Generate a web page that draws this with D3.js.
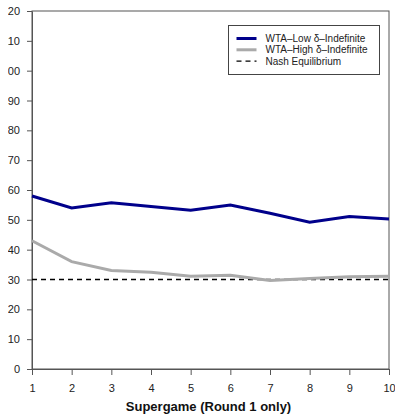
<!DOCTYPE html>
<html>
<head>
<meta charset="utf-8">
<script src="https://cdn.jsdelivr.net/npm/d3@7"></script>
<style>
  body { margin: 0; background: #fff; }
  svg { display: block; font-family: "Liberation Sans", Arial, sans-serif; }
  .axis text { fill: #222; font-size: 11px; }
  .axis path, .axis line { stroke: #555; }
</style>
</head>
<body>
<svg id="chart" width="395" height="414"></svg>
<script>
const supergames = [1, 2, 3, 4, 5, 6, 7, 8, 9, 10];
const lowDelta = [58.0, 54.0, 55.7, 54.5, 53.2, 55.0, 52.2, 49.2, 51.1, 50.3];
const highDelta = [43.0, 36.0, 33.0, 32.4, 31.1, 31.4, 29.7, 30.3, 30.9, 31.1];
const nashValue = 30;
const yTicks = [0, 10, 20, 30, 40, 50, 60, 70, 80, 90, 100, 110, 120];
const legendLabels = ["WTA\u2013Low \u03b4\u2013Indefinite", "WTA\u2013High \u03b4\u2013Indefinite", "Nash Equilibrium"];

const margin = {top: 11, right: 6, bottom: 45, left: 32};
const width = 395 - margin.left - margin.right;
const height = 414 - margin.top - margin.bottom;

const svg = d3.select("#chart");

// the original figure is cropped on the left, cutting the first digit of 100-120
svg.append("clipPath").attr("id", "crop")
  .append("rect")
    .attr("x", 8 - margin.left).attr("y", -20)
    .attr("width", 400).attr("height", 450);

const chart = svg.append("g")
    .attr("transform", `translate(${margin.left},${margin.top})`);

const xScale = d3.scaleLinear().domain([1, 10]).range([0, width]);
const yScale = d3.scaleLinear().domain([0, 120]).range([height, 0]);

// box on top and right
chart.append("rect")
    .attr("width", width)
    .attr("height", height)
    .attr("fill", "none")
    .attr("stroke", "#555");

const xAxis = d3.axisBottom(xScale).tickValues(supergames).tickSize(6).tickPadding(9).tickSizeOuter(0);
const yAxis = d3.axisLeft(yScale).tickValues(yTicks).tickSize(5).tickPadding(7).tickSizeOuter(0);

chart.append("g").attr("class", "axis x-axis")
    .attr("transform", `translate(0,${height})`)
    .call(xAxis);
chart.append("g").attr("class", "axis y-axis")
    .attr("clip-path", "url(#crop)")
    .call(yAxis);

// Nash line
chart.append("line")
    .attr("x1", 0).attr("x2", width)
    .attr("y1", yScale(nashValue)).attr("y2", yScale(nashValue))
    .attr("stroke", "#000")
    .attr("stroke-width", 1.3)
    .attr("stroke-dasharray", "5,4");

const line = d3.line()
    .x((d, i) => xScale(supergames[i]))
    .y(d => yScale(d));

chart.append("path").datum(highDelta)
    .attr("d", line).attr("fill", "none")
    .attr("stroke", "#aaaaaa").attr("stroke-width", 3);

chart.append("path").datum(lowDelta)
    .attr("d", line).attr("fill", "none")
    .attr("stroke", "#00008b").attr("stroke-width", 3);

// x label
svg.append("text")
    .attr("x", margin.left + width / 2 - 2)
    .attr("y", 411)
    .attr("text-anchor", "middle")
    .attr("font-size", 13)
    .attr("font-weight", "bold")
    .attr("fill", "#111")
    .text("Supergame (Round 1 only)");

// legend
const legend = svg.append("g").attr("transform", "translate(228.5,25.5)");
legend.append("rect")
    .attr("width", 151).attr("height", 49)
    .attr("fill", "#fff").attr("stroke", "#444");

const legendStyles = [
  {color: "#00008b", width: 3, dash: null},
  {color: "#aaaaaa", width: 3, dash: null},
  {color: "#000", width: 1.3, dash: "5,4"}
];
legendLabels.forEach((label, i) => {
  const y = 13 + i * 11.3;
  legend.append("line")
      .attr("x1", 8).attr("x2", 28)
      .attr("y1", y).attr("y2", y)
      .attr("stroke", legendStyles[i].color)
      .attr("stroke-width", legendStyles[i].width)
      .attr("stroke-dasharray", legendStyles[i].dash);
  legend.append("text")
      .attr("x", 37).attr("y", y)
      .attr("dy", "0.35em")
      .attr("font-size", 10)
      .attr("fill", "#222")
      .text(label);
});
</script>
</body>
</html>
